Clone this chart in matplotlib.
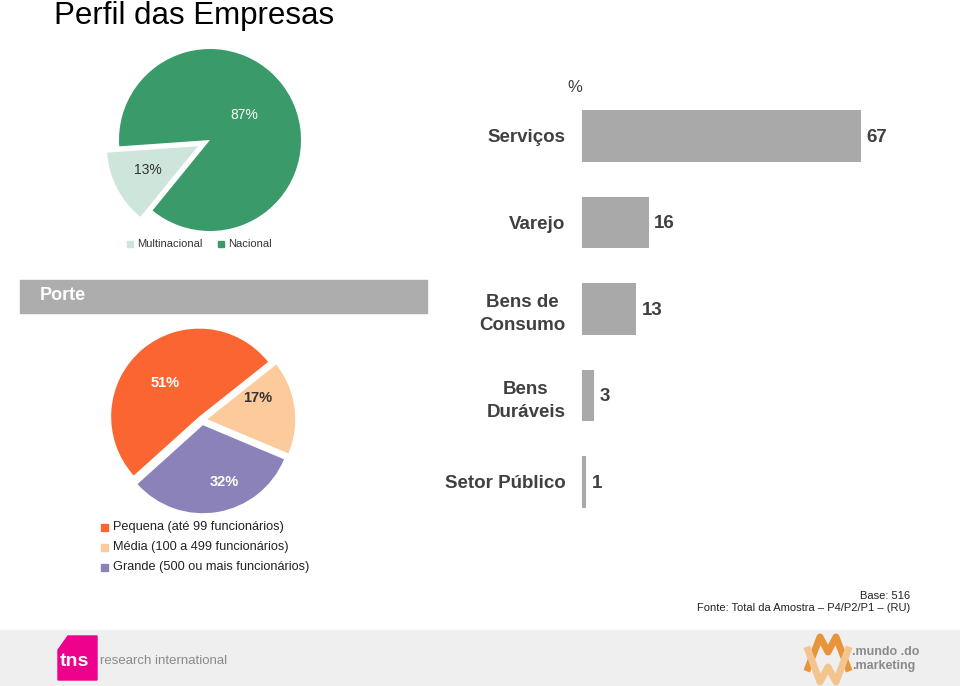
import matplotlib
matplotlib.use("Agg")
import matplotlib.pyplot as plt
from matplotlib.patches import Rectangle, Polygon

plt.rcParams['font.family'] = ['Liberation Sans', 'DejaVu Sans']

# ---- data ----
origem_labels = ["Multinacional", "Nacional"]
origem_values = [13, 87]
origem_colors = ["#CDE5DA", "#3A9A6A"]

porte_labels = ["Pequena (até 99 funcionários)", "Média (100 a 499 funcionários)",
                "Grande (500 ou mais funcionários)"]
porte_values = [51, 17, 32]
porte_colors = ["#FA6532", "#FDCB9B", "#8B82BA"]

setor_labels = ["Serviços", "Varejo", "Bens de\nConsumo", "Bens\nDuráveis", "Setor Público"]
setor_values = [67, 16, 13, 3, 1]

W, H = 960, 686
fig = plt.figure(figsize=(W / 100, H / 100), dpi=100)
fig.patch.set_facecolor("white")


def fx(x):
    return x / W


def fy(y):
    return 1 - y / H


TXT = "#404040"

# Title
fig.text(fx(54), fy(16), "Perfil das Empresas", fontsize=22.5, color="black",
         va="center", ha="left")

# ---- Pie 1: origem ----
cx, cy, r = 210, 140, 91
s = 2.2 * r
ax1 = fig.add_axes([fx(cx - s / 2), fy(cy + s / 2), s / W, s / H])
w1, _ = ax1.pie(origem_values, colors=origem_colors, startangle=184,
                counterclock=True, explode=[0.15, 0], radius=1)
ax1.set_xlim(-1.1, 1.1)
ax1.set_ylim(-1.1, 1.1)
ax1.set_aspect("equal")
ax1.axis("off")
ax1.text(0.38, 0.27, f"{origem_values[1]}%", color="white", fontsize=10,
         ha="center", va="center")
ax1.text(-0.68, -0.33, f"{origem_values[0]}%", color="#333333", fontsize=10,
         ha="center", va="center")
# legend 1
for (lx, lab, col) in [(130, origem_labels[0], origem_colors[0]),
                       (221, origem_labels[1], origem_colors[1])]:
    fig.patches.append(Rectangle((fx(lx - 3), fy(247)), 6 / W, 6 / H,
                                 transform=fig.transFigure, color=col))
    fig.text(fx(lx + 7), fy(244), lab, fontsize=8, color="#333333",
             va="center", ha="left")

# ---- Porte header ----
fig.patches.append(Rectangle((fx(20), fy(313)), 407 / W, 33 / H,
                             transform=fig.transFigure, color="#ADADAD"))
fig.text(fx(40), fy(296), "Porte", fontsize=13, fontweight="bold",
         color="white", va="center", ha="left")

# ---- Pie 2: porte ----
cx, cy, r = 202, 420, 88
s = 2.2 * r
ax2 = fig.add_axes([fx(cx - s / 2), fy(cy + s / 2), s / W, s / H])
w2, _ = ax2.pie(porte_values, colors=porte_colors, startangle=222,
                counterclock=False, explode=[0.05, 0.06, 0.06], radius=1)
ax2.set_xlim(-1.1, 1.1)
ax2.set_ylim(-1.1, 1.1)
ax2.set_aspect("equal")
ax2.axis("off")
ax2.text(-0.42, 0.42, f"{porte_values[0]}%", color="white", fontsize=10.5,
         fontweight="bold", ha="center", va="center")
ax2.text(0.63, 0.25, f"{porte_values[1]}%", color="#333333", fontsize=10.5,
         fontweight="bold", ha="center", va="center")
ax2.text(0.25, -0.70, f"{porte_values[2]}%", color="white", fontsize=10.5,
         fontweight="bold", ha="center", va="center")
# legend 2
for i, (lab, col) in enumerate(zip(porte_labels, porte_colors)):
    yy = 527 + i * 20
    fig.patches.append(Rectangle((fx(101), fy(yy + 3.5)), 7 / W, 7 / H,
                                 transform=fig.transFigure, color=col))
    fig.text(fx(113), fy(yy), lab, fontsize=9.2, color="#222222",
             va="center", ha="left")

# ---- Bar chart: setor ----
left_px, right_px = 582, 582 + 80 * 4.164
top_px, bot_px = 136 - 43.25, 482 + 43.25
axb = fig.add_axes([fx(left_px), fy(bot_px), (right_px - left_px) / W,
                    (bot_px - top_px) / H])
ypos = list(range(len(setor_values)))
axb.barh(ypos, setor_values, height=0.6, color="#A9A9A9")
axb.set_xlim(0, 80)
axb.set_ylim(len(setor_values) - 0.5, -0.5)
axb.set_yticks(ypos)
axb.set_yticklabels(setor_labels, fontsize=13.5, fontweight="bold", color=TXT,
                    linespacing=1.5)
for lbl in axb.get_yticklabels():
    lbl.set_multialignment("center")
axb.tick_params(axis="y", length=0, pad=12)
axb.set_xticks([])
for sp in axb.spines.values():
    sp.set_visible(False)
for yv, v in zip(ypos, setor_values):
    axb.annotate(str(v), (v, yv), xytext=(4, -1), textcoords="offset points",
                 fontsize=13.5, fontweight="bold", color=TXT, va="center",
                 ha="left")
fig.text(fx(575), fy(87), "%", fontsize=12, color=TXT, ha="center",
         va="center")

# ---- source ----
fig.text(fx(910), fy(596), "Base: 516", fontsize=8, color="#222222",
         ha="right", va="center")
fig.text(fx(910), fy(608), "Fonte: Total da Amostra – P4/P2/P1 – (RU)",
         fontsize=8, color="#222222", ha="right", va="center")

# ---- footer band with logos ----
fig.patches.append(Rectangle((0, 0), 1, (686 - 630) / H,
                             transform=fig.transFigure, color="#EFEFEF"))
pink = [(58, 680), (58, 650), (68, 636), (97, 636), (97, 680)]
fig.patches.append(Polygon([(fx(x), fy(y)) for x, y in pink], closed=True,
                           transform=fig.transFigure, color="#EC008C"))
fig.text(fx(60), fy(661), "tns", fontsize=14, fontweight="bold",
         color="white", ha="left", va="center")
fig.text(fx(100), fy(661), "research international", fontsize=9.5,
         color="#8A8A8A", ha="left", va="center")
mw_top = [(808, 668), (820, 637), (828, 652), (836, 637), (848, 668)]
mw_bot = [(808, 650), (820, 682), (828, 667), (836, 682), (848, 650)]
fig.lines.append(plt.Line2D([fx(x) for x, y in mw_top], [fy(y) for x, y in mw_top],
                            transform=fig.transFigure, color="#E8943A", lw=5))
fig.lines.append(plt.Line2D([fx(x) for x, y in mw_bot], [fy(y) for x, y in mw_bot],
                            transform=fig.transFigure, color="#F3C48E", lw=5))
fig.text(fx(852), fy(652), ".mundo .do", fontsize=9, fontweight="bold",
         color="#8A8A8A", ha="left", va="center")
fig.text(fx(852), fy(666), ".marketing", fontsize=9, fontweight="bold",
         color="#8A8A8A", ha="left", va="center")

fig.savefig("out.png", dpi=100, facecolor="white")
